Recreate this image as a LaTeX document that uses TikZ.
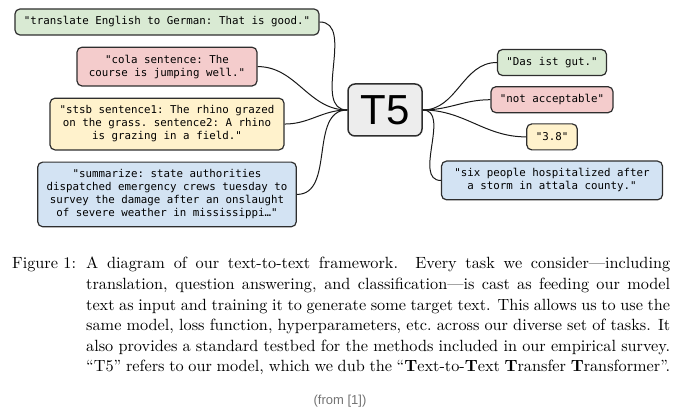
\documentclass[tikz,border=0pt]{standalone}
\usepackage{fontspec}
\setmainfont{lmroman10-regular.otf}[BoldFont=lmroman10-bold.otf, Ligatures=TeX]
\setsansfont{Liberation Sans}
\setmonofont{DejaVu Sans Mono}
\usepackage{xcolor}
\usepackage{tikz}
\usetikzlibrary{positioning}

\definecolor{taskgreen}{HTML}{D9EAD3}
\definecolor{taskred}{HTML}{F4CCCC}
\definecolor{taskyellow}{HTML}{FFF2CC}
\definecolor{taskblue}{HTML}{D3E3F3}
\definecolor{taskline}{HTML}{2E2E2E}

\begin{document}
\begin{tikzpicture}[
			x=1pt, y=1pt,
			node distance=11pt and 0pt,
			task/.style={draw=taskline, line width=1.2pt, rounded corners=5pt, align=center, inner xsep=9pt, inner ysep=7.6pt, minimum height=26pt, font=\fontsize{10.8}{13}\ttfamily},
			model/.style={draw=taskline, line width=1.5pt, rounded corners=7pt, fill=black!7, minimum width=74pt, minimum height=52pt, inner sep=0pt, font=\fontsize{42}{42}\sffamily},
			caption/.style={anchor=base west, inner sep=0pt, font=\fontsize{16.25}{20.6}\selectfont},
			link/.style={line width=1pt, black!90}
			]
			\useasboundingbox (0,0) rectangle (680,415);
			
			% Nodes
			\node (t5) [model] at (385,305) {T5};
			\node (translate) [task, fill=taskgreen] at (167,393) {"translate English to German: That is good."};
			\node (cola) [task, fill=taskred, minimum width=180pt, below=of translate] {"cola sentence: The\\course is jumping well."};
			\node (stsb) [task, fill=taskyellow, minimum width=234pt, below=of cola] {"stsb sentence1: The rhino grazed\\on the grass. sentence2: A rhino\\is grazing in a field."};
			\node (summarize) [task, fill=taskblue, below=of stsb] {"summarize: state authorities\\dispatched emergency crews tuesday to\\survey the damage after an onslaught\\of severe weather in mississippi…"};
			\node (german) [task, fill=taskgreen] at (552,352.5) {"Das ist gut."};
			\node (acceptable) [task, fill=taskred, below=10pt of german] {"not acceptable"};
			\node (score) [task, fill=taskyellow, minimum width=49pt, below=10pt of acceptable] {"3.8"};
			\node (summary) [task, fill=taskblue, minimum width=221pt, below=10pt of score] {"six people hospitalized after\\a storm in attala county."};
			
			% Caption
			\node (figlabel) [caption] at (12,146) {Figure 1:};
			\node (captext) [caption, text width=584pt, align=justify] at (86,146) {A diagram of our text-to-text framework. Every task we consider---including\linebreak translation, question answering, and classification---is cast as feeding our model\linebreak text as input and training it to generate some target text. This allows us to use the\linebreak same model, loss function, hyperparameters, etc.\ across our diverse set of tasks. It\linebreak also provides a standard testbed for the methods included in our empirical survey.\linebreak ``T5'' refers to our model, which we dub the ``\textbf{T}ext-to-\textbf{T}ext \textbf{T}ransfer \textbf{T}ransformer''.};
			\node (source) [text=black!55, font=\fontsize{13}{15}\sffamily] at (340,14) {(from [1])};
			
			% Connections
			\draw [link] (translate.east) to[out=0, in=180] (t5.west);
			\draw [link] (cola.east) to[out=0, in=180] (t5.west);
			\draw [link] (stsb.east) to[out=0, in=180] (t5.west);
			\draw [link] (summarize.east) to[out=0, in=180] (t5.west);
			\draw [link] (t5.east) to[out=0, in=180] (german.west);
			\draw [link] (t5.east) to[out=0, in=180] (acceptable.west);
			\draw [link] (t5.east) to[out=0, in=180] (score.west);
			\draw [link] (t5.east) to[out=0, in=180] (summary.west);
			
		\end{tikzpicture}
\end{document}
